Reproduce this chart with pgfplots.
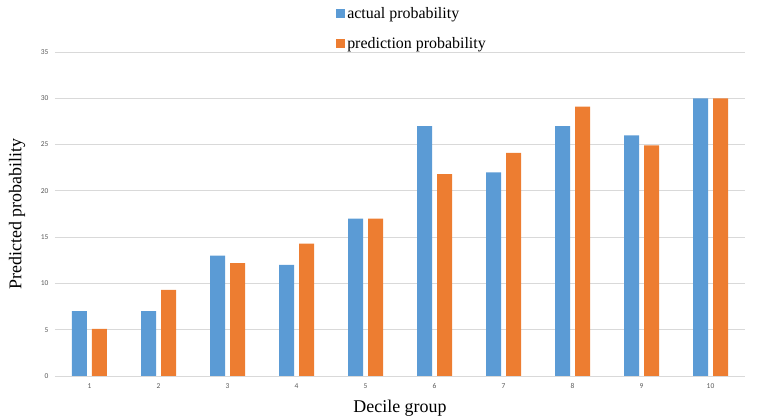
\documentclass[border=0pt]{standalone}
\usepackage{pgfplots}
\pgfplotsset{compat=1.18}
\usepackage{fontspec}
\setmainfont{Liberation Serif}
\newfontfamily\tickfont{Carlito}
\definecolor{xblue}{HTML}{5B9BD5}
\definecolor{xorange}{HTML}{ED7D31}
\definecolor{gridgray}{HTML}{D9D9D9}
\definecolor{ticktext}{HTML}{595959}
\begin{document}
\begin{tikzpicture}
\useasboundingbox (-55bp,-41bp) rectangle (703bp,376bp);
\begin{axis}[
    scale only axis,
    width=690bp, height=324bp,
    ybar, bar width=15bp,
    xmin=0.5, xmax=10.5,
    ymin=0, ymax=35,
    xtick={1,...,10},
    ytick={0,5,...,35},
    axis line style={draw=none},
    major tick length=0pt,
    ymajorgrids,
    grid style={gridgray, line width=0.8pt},
    tick label style={font=\tickfont\fontsize{7.5}{8}\selectfont, text=ticktext},
    /pgf/number format/assume math mode=true,
    yticklabel style={xshift=-3bp},
    xticklabel style={yshift=-4bp},
    xlabel={Decile group},
    ylabel={Predicted probability},
    label style={font=\fontsize{18}{18}\selectfont},
    xlabel style={at={(axis description cs:0.5,0)}, anchor=base, yshift=-36bp},
    ylabel style={at={(axis description cs:0,0.5)}, anchor=center, yshift=38bp},
    legend style={at={(0.403,1.15)}, anchor=north west, draw=none, fill=none,
        font=\fontsize{16}{16}\selectfont, row sep=13bp, cells={anchor=west}},
    legend image code/.code={\fill[#1] (0bp,-4.5bp) rectangle (9bp,4.5bp);},
]
\addplot[fill=xblue, draw=none, bar shift=-10bp] coordinates {
  (1,7) (2,7) (3,13) (4,12) (5,17) (6,27) (7,22) (8,27) (9,26) (10,30)};
\addplot[fill=xorange, draw=none, bar shift=10bp] coordinates {
  (1,5.1) (2,9.3) (3,12.2) (4,14.3) (5,17) (6,21.8) (7,24.1) (8,29.1) (9,24.9) (10,30)};
\legend{actual probability, prediction probability}
\end{axis}
\end{tikzpicture}
\end{document}
